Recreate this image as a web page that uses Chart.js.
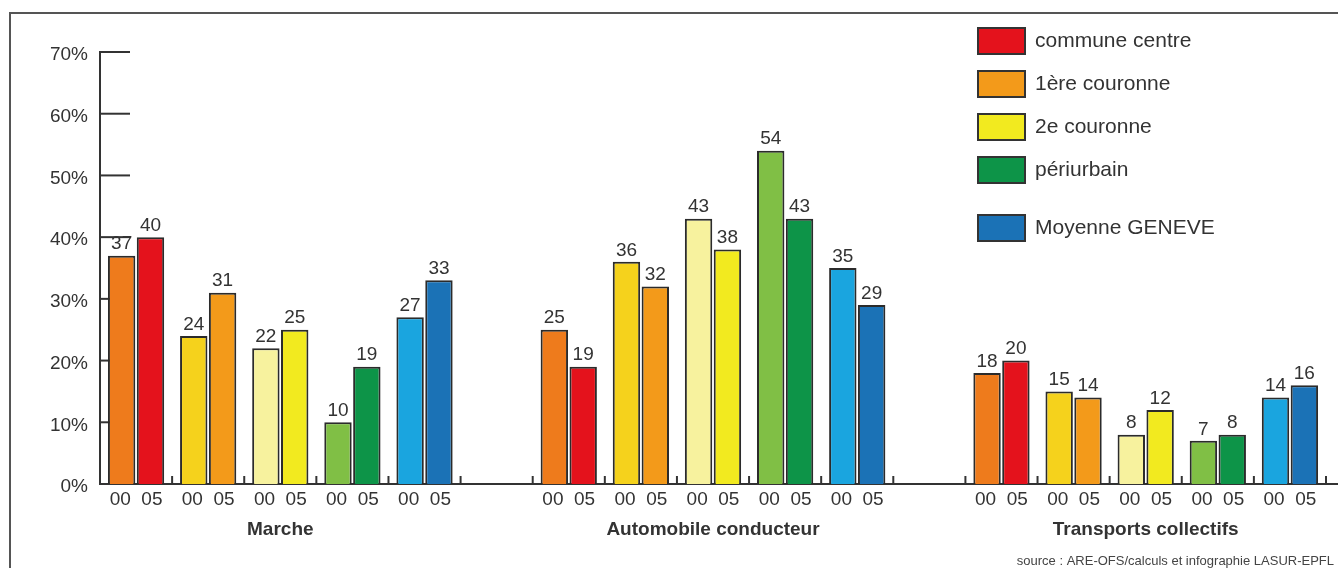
<!DOCTYPE html>
<html>
<head>
<meta charset="utf-8">
<script src="https://cdn.jsdelivr.net/npm/chart.js@4.4.0/dist/chart.umd.min.js"></script>
<style>
html, body { margin: 0; padding: 0; background: #fff; overflow: hidden; }
#frame { position: absolute; left: 9px; top: 12px; width: 1400px; height: 600px; border-left: 2px solid #555; border-top: 2px solid #555; }
#wrap { position: absolute; left: 0; top: 0; width: 1338px; height: 568px; }
</style>
</head>
<body>
<div id="frame"></div>
<div id="wrap"><canvas id="myChart"></canvas></div>
<script>
var categories = ['commune centre', '1ère couronne', '2e couronne', 'périurbain', 'Moyenne GENEVE'];
var groups = ['Marche', 'Automobile conducteur', 'Transports collectifs'];
var years = ['00', '05'];
var marche00 = [37, 24, 22, 10, 27];
var marche05 = [40, 31, 25, 19, 33];
var auto00 = [25, 36, 43, 54, 35];
var auto05 = [19, 32, 38, 43, 29];
var tc00 = [18, 15, 8, 7, 14];
var tc05 = [20, 14, 12, 8, 16];
var yTicks = [0, 10, 20, 30, 40, 50, 60, 70];
var source = 'source : ARE-OFS/calculs et infographie LASUR-EPFL';

var colors00 = ['#ee7b1c', '#f5d21c', '#f7f29e', '#80bf45', '#1aa5df'];
var colors05 = ['#e4121c', '#f39a1a', '#f2ea1f', '#0d9448', '#1b72b6'];

var FONT = "'Liberation Sans', Arial, sans-serif";
Chart.defaults.font.family = FONT;
Chart.defaults.color = '#333';

// one slot per pair of bars, plus an empty slot between the groups
var slotLabels = [], groupLabels = [], data00 = [], data05 = [], bg00 = [], bg05 = [];
[[marche00, marche05], [auto00, auto05], [tc00, tc05]].forEach(function (g, gi) {
    if (gi > 0) {
        slotLabels.push(''); groupLabels.push('');
        data00.push(null); data05.push(null);
        bg00.push('#fff'); bg05.push('#fff');
    }
    categories.forEach(function (c, ci) {
        slotLabels.push(years[0] + '  ' + years[1]);
        groupLabels.push(ci === 2 ? groups[gi] : '');
        data00.push(g[0][ci]); data05.push(g[1][ci]);
        bg00.push(colors00[ci]); bg05.push(colors05[ci]);
    });
});

function line(ctx, x1, y1, x2, y2) {
    ctx.beginPath(); ctx.moveTo(x1, y1); ctx.lineTo(x2, y2); ctx.stroke();
}

var axisMarks = {
    id: 'axisMarks',
    beforeDatasetsDraw: function (chart) {
        var ctx = chart.ctx, a = chart.chartArea, x = chart.scales.x, y = chart.scales.y;
        ctx.save();
        ctx.strokeStyle = '#333';
        ctx.lineWidth = 2;
        yTicks.forEach(function (v) {
            if (v === 0) return;
            var py = y.getPixelForValue(v);
            line(ctx, a.left, py, a.left + 30, py);
        });
        for (var i = 0; i < slotLabels.length; i++) {
            var px = x.getPixelForValue(i + 0.5);
            line(ctx, px, a.bottom, px, a.bottom - 8);
        }
        line(ctx, a.right, a.bottom, chart.width, a.bottom);
        ctx.restore();
    }
};

var valueLabels = {
    id: 'valueLabels',
    afterDatasetsDraw: function (chart) {
        var ctx = chart.ctx;
        ctx.save();
        ctx.font = '19px ' + FONT;
        ctx.fillStyle = '#333';
        ctx.textAlign = 'center';
        ctx.textBaseline = 'bottom';
        chart.data.datasets.forEach(function (ds, di) {
            chart.getDatasetMeta(di).data.forEach(function (bar, i) {
                var v = ds.data[i];
                if (v === null) return;
                ctx.fillText(String(v), bar.x, bar.y - 2);
            });
        });
        ctx.restore();
    }
};

var boxLegend = {
    id: 'boxLegend',
    afterDraw: function (chart) {
        var ctx = chart.ctx;
        var rows = [41, 84, 127, 170, 228];
        ctx.save();
        ctx.font = '21px ' + FONT;
        ctx.textBaseline = 'middle';
        categories.forEach(function (c, i) {
            ctx.fillStyle = colors05[i];
            ctx.fillRect(978, rows[i] - 13, 47, 26);
            ctx.strokeStyle = '#333';
            ctx.lineWidth = 2;
            ctx.strokeRect(978, rows[i] - 13, 47, 26);
            ctx.fillStyle = '#333';
            ctx.fillText(c, 1035, rows[i]);
        });
        // source line, bottom right
        ctx.font = '13px ' + FONT;
        ctx.fillStyle = '#444';
        ctx.textAlign = 'right';
        ctx.fillText(source, chart.width - 4, 561);
        ctx.restore();
    }
};

var ctx = document.getElementById('myChart');
var myChart = new Chart(ctx, {
    type: 'bar',
    data: {
        labels: slotLabels,
        datasets: [
            {
                label: years[0],
                data: data00,
                backgroundColor: bg00,
                borderColor: '#2b2b2b',
                borderWidth: 2
            }, {
                label: years[1],
                data: data05,
                backgroundColor: bg05,
                borderColor: '#2b2b2b',
                borderWidth: 2
            }
        ]
    },
    options: {
        responsive: true,
        maintainAspectRatio: false,
        animation: false,
        layout: { padding: { left: 10, top: 52, right: 12, bottom: 26 } },
        datasets: { bar: { categoryPercentage: 0.8, barPercentage: 0.95 } },
        plugins: {
            legend: { display: false },
            tooltip: { enabled: false }
        },
        scales: {
            x: {
                offset: true,
                grid: { display: false, drawTicks: false, tickLength: 0 },
                border: { display: true, color: '#333', width: 2 },
                ticks: { autoSkip: false, maxRotation: 0, padding: 4, font: { size: 19 } },
                afterFit: function (s) { s.height = 28; }
            },
            x2: {
                type: 'category',
                position: 'bottom',
                weight: 1,
                labels: groupLabels,
                offset: true,
                grid: { display: false, drawTicks: false, tickLength: 0 },
                border: { display: false },
                ticks: { autoSkip: false, maxRotation: 0, padding: 6, font: { size: 19, weight: 'bold' } },
                afterFit: function (s) { s.height = 30; }
            },
            y: {
                min: 0,
                max: 70,
                grid: { display: false, drawTicks: false, tickLength: 0 },
                border: { display: true, color: '#333', width: 2 },
                ticks: {
                    stepSize: 10,
                    padding: 12,
                    labelOffset: 3,
                    font: { size: 19 },
                    callback: function (v) { return v + '%'; }
                },
                afterFit: function (s) { s.width = 90; }
            }
        }
    },
    plugins: [axisMarks, valueLabels, boxLegend]
});
</script>
</body>
</html>
